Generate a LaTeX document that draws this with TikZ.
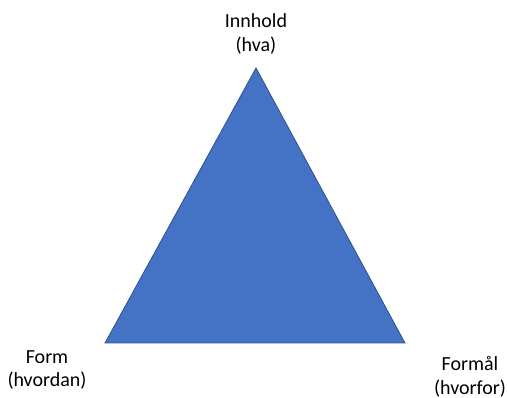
\documentclass[tikz,border=0pt]{standalone}
\usepackage{fontspec}
\setmainfont{Carlito}
\definecolor{triFill}{HTML}{4472C4}
\definecolor{triEdge}{HTML}{2F528F}
\begin{document}
\begin{tikzpicture}[x=1pt,y=-1pt,
  lbl/.style={align=center,font=\fontsize{20}{23.5}\selectfont,inner sep=0pt,text=black}]
\useasboundingbox (0,0) rectangle (507,398);
\coordinate (top) at (256,68);
\coordinate (bl) at (105,343);
\coordinate (br) at (405,343);
\fill[triFill,draw=triEdge,line width=0.8pt,line join=miter] (top) -- (bl) -- (br) -- cycle;
\node[lbl] (innhold) at (256,34) {Innhold\\(hva)};
\node[lbl] (form) at (47,370) {Form\\(hvordan)};
\node[lbl] (formal) at (470,377) {Formål\\(hvorfor)};
\end{tikzpicture}
\end{document}
